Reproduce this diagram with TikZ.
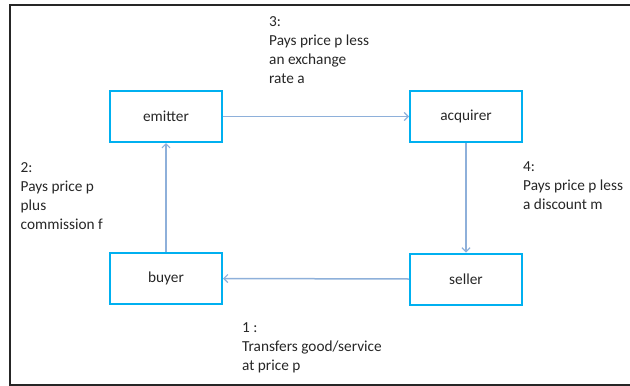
\documentclass[tikz,border=0pt]{standalone}
\usepackage{fontspec}
\setmainfont{Carlito}
\usetikzlibrary{arrows.meta}
\definecolor{boxblue}{HTML}{00B0F0}
\definecolor{lineblue}{HTML}{8EB0DA}
\definecolor{txt}{HTML}{262626}
\tikzset{
  actor/.style={draw=boxblue, line width=2pt, minimum width=112pt, minimum height=51pt, inner sep=0pt, text=txt, font=\fontsize{15.3pt}{19pt}\selectfont},
  flow/.style={draw=lineblue, line width=1.5pt, -{Straight Barb[length=4pt,width=8pt,line width=1.2pt]}},
  lbl/.style={anchor=north west, inner sep=0pt, align=left, text=txt, font=\fontsize{15.3pt}{19pt}\selectfont}
}
\begin{document}
\begin{tikzpicture}[x=1pt,y=-1pt]
\useasboundingbox (0,0) rectangle (630,386);
\draw[line width=2pt, color=black!85] (634,5) -- (10,5) -- (10,385) -- (634,385);
\node[actor] (emitter) at (166,116.5) {emitter};
\node[actor] (acquirer) at (466,116.5) {acquirer};
\node[actor] (buyer) at (166,278.5) {buyer};
\node[actor] (seller) at (466,279) {seller};
\draw[flow] (emitter.east) -- (acquirer.west);
\draw[flow] (acquirer.south) -- (seller.north);
\draw[flow] (seller.west) -- (buyer.east);
\draw[flow] (buyer.north) -- (emitter.south);
\node[lbl] (l3) at (269,16.5) {3:\\Pays price p less\\an exchange\\rate a};
\node[lbl] (l2) at (20.5,162) {2:\\Pays price p\\plus\\commission f};
\node[lbl] (l4) at (523,161.5) {4:\\Pays price p less\\a discount m};
\node[lbl] (l1) at (242,322.5) {1 :\\Transfers good/service\\at price p};
\end{tikzpicture}
\end{document}
